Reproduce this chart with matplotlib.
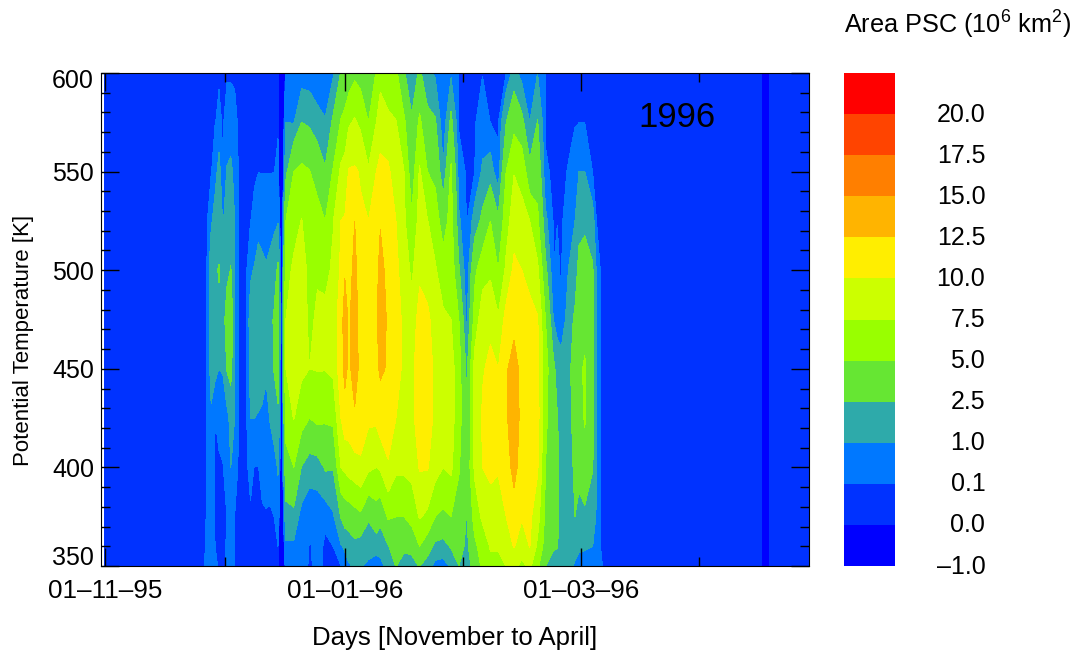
import numpy as np
import matplotlib
matplotlib.use("Agg")
import matplotlib.pyplot as plt
from matplotlib.transforms import ScaledTranslation

plt.rcParams["font.family"] = ["Liberation Sans", "DejaVu Sans"]
plt.rcParams["mathtext.fontset"] = "custom"
plt.rcParams["mathtext.rm"] = "Liberation Sans"
plt.rcParams["mathtext.default"] = "regular"

# potential temperature levels [K], the order of the values in every row below
theta = [350, 360, 375, 400, 425, 450, 475, 500, 525, 550, 575, 600]

bg = 0.05   # just above 0, "no PSC"
empty = [bg] * len(theta)
gap = [-1.0] * len(theta)

days_november = [0, 25, 26, 27, 28, 29, 30, 31, 32, 33, 34, 36]
area_november = [
    empty,
    empty,
    [.2, .15, .12, .12, .12, .12, .12, .12, .06, .05, .05, .05],
    [.3, .3, .3, .5, .8, 1.5, 2, 2, .8, .05, .05, .05],
    [.2, .1, .08, .08, .1, 1.3, 2.2, 2.3, 1.6, .5, .08, .05],
    [.05, .05, .05, .05, .2, 1, 2.2, 2.6, 1.8, 1.5, .2, .05],
    [.05, .05, .05, .08, .3, 1.1, 1.6, 1.8, .9, .09, .05, .05],
    [.12, .12, .1, .3, .5, 2.6, 3.5, 2, 1.5, 1.1, .3, .05],
    [.4, .4, .5, 1, 1.5, 3, 4, 2.6, 1.6, 1.3, .3, .05],
    [.09, .09, .09, .3, 1, 1, 1, 1, 1, .6, .2, .05],
    empty,
    empty,
]

days_december = [37, 38, 39, 40, 41, 42, 43, 44, 45, 46, 48, 50, 52, 54, 56, 58]
area_december = [
    [.05, .05, .05, .2, 1, 1.4, 1.6, .8, .09, .05, .05, .05],
    [.05, .05, .06, .09, 1, 1.6, 1.8, 1.1, .2, .05, .05, .05],
    [.05, .05, .06, .09, .9, 1.7, 2, 1.5, .6, .09, .05, .05],
    [.05, .05, .06, .2, .8, 1.5, 2, 1.3, .5, .08, .05, .05],
    [.05, .05, .08, .2, .5, 1.2, 1.8, 1.1, .5, .08, .05, .05],
    [.05, .05, .07, .2, 1.1, 1.9, 2, 1.4, .5, .08, .05, .05],
    [.05, .07, .1, .6, 1.5, 2.6, 2.7, 1.8, .7, .09, .05, .05],
    [.08, .1, .5, 1.1, 2.3, 3, 3.5, 2.8, .9, .2, .05, .05],
    gap,
    [.4, .8, 1.8, 4, 6, 7.5, 7.5, 6.5, 5, 2, 1, .2],
    [.4, .8, 1.9, 5, 7.6, 8.5, 9, 8, 6.5, 5, .9, .3],
    [.3, .6, .5, 2.4, 6, 8, 8.5, 8, 7.6, 5.5, 2.5, .3],
    [.05, .06, .3, 1.5, 5, 7.5, 7.1, 7.2, 6, 5.1, 2.2, .3],
    [.2, .2, .3, 1.6, 5.5, 7.6, 7.8, 7.3, 6, 4, 1.5, .09],
    [.05, .06, .15, 2.7, 5.3, 7.6, 8, 7, 5, 2.7, 1.1, .15],
    [.05, .1, .8, 2.6, 5.5, 8, 8.5, 7.8, 7.4, 5.2, 2.8, .8],
]

days_january = [60, 61, 62, 63.5, 65, 67, 69, 70, 72, 74, 76, 78, 80, 82, 84, 86, 88]
area_january = [
    [.08, .9, 2.6, 7.5, 10, 11.5, 11.5, 10.5, 10, 8, 5.2, 2.6],
    [.5, 1.2, 3.3, 8, 11.5, 13.2, 13.5, 12.3, 10.2, 8.5, 5.8, 3],
    [.9, 1.5, 3.5, 8.5, 11.3, 12, 12.2, 11.5, 10.5, 10.2, 7.2, 3.5],
    [1.1, 2, 4, 9, 12.2, 13.5, 13.5, 13.2, 12.5, 10.3, 7.8, 4.5],
    [1.2, 1.5, 4.5, 9.5, 11.5, 11.8, 11.5, 11, 10.3, 9.8, 7, 4],
    [.5, 2, 2.6, 8, 10.5, 11.5, 11.5, 11, 10, 7.8, 5, 3],
    [.4, 1.5, 3.8, 7.5, 10.5, 12, 12.2, 12, 11, 10, 7.5, 5.2],
    [.6, 1.5, 3, 7.8, 11.5, 12.8, 13.5, 13, 12.4, 11, 8.3, 7],
    [1.5, 2.4, 5.3, 9.7, 11.5, 12.3, 12.2, 12, 11.5, 10.5, 8, 6],
    [2.6, 3.5, 5, 8, 10, 11, 11, 10.5, 10, 8.5, 7.6, 5.5],
    [1.5, 3, 5, 8, 9.5, 9.5, 9.5, 9, 8, 7.6, 5.5, 2.7],
    [2, 2.9, 6, 8.2, 9.5, 9.3, 8.5, 7, 5.3, 3.5, 2.7, 1.5],
    [2.6, 5, 7.7, 10.2, 11, 11.5, 11, 9.5, 8.5, 7.8, 5.5, 2.8],
    [1.5, 3.5, 7, 10.2, 11, 11, 10.5, 9, 7.6, 5, 3, 1.5],
    [.6, 2, 5, 8.5, 9.5, 9.5, 9, 7.8, 6, 4.5, 2.7, .8],
    [.5, 1.8, 4.5, 7.5, 8.5, 8.5, 8, 6, 4, 1.1, .12, .05],
    [1.2, 2.7, 5, 8, 8.5, 8.5, 7.5, 6.5, 5.8, 5.4, 3, .8],
]

days_february = [90, 92, 94, 96, 98, 100, 102, 104, 106, 108, 110, 112, 114, 115, 116, 118]
area_february = [
    [2.5, 3.5, 4, 5.2, 6, 6, 5, 2.7, 1.2, .3, .05, .05],
    [1.5, 2, 2.4, 3, 2.6, 2, .5, .1, .05, .05, .05, .05],
    [3.5, 4.5, 6, 8, 8, 8.5, 6, 4.5, 1.5, .1, .05, .05],
    [5.5, 6, 8, 10, 10.3, 9.8, 9, 6.5, 3, 1.2, .4, .08],
    [7, 7.7, 9, 10.5, 11, 10.5, 9.5, 7, 5, 1.6, .09, .05],
    [6, 8, 9, 10.2, 10.5, 10, 7.8, 5, 2.8, .2, .05, .05],
    [7.6, 8.5, 10, 11.5, 12.2, 12.3, 11, 8, 6.5, 5, 2.5, .1],
    [8, 10.2, 11.5, 13.2, 13.8, 13.2, 12, 10.6, 8.8, 7.4, 4.2, 1.5],
    [7, 8.5, 10.2, 11.5, 11.8, 12, 11.5, 10, 8, 7, 3, .5],
    [8, 10.1, 10.5, 11, 11.5, 11, 11, 9, 7.5, 3, 1, .08],
    [5.5, 7, 8.5, 10.3, 11, 10.8, 10.2, 8, 5.5, 4, 2.6, 1],
    [2.6, 4, 4.5, 5, 5.5, 6, 5, 3, 1.3, .15, .05, .05],
    [1, 3, 3.5, 3.5, 3.5, 3, 1, .1, .05, .05, .05, .05],
    [1.5, 2.6, 2.8, 2.8, 2.6, 1.8, .5, .2, .09, .05, .05, .05],
    [1.5, 1.8, 2, 2, 1.8, 1.7, .09, .05, .05, .05, .05, .05],
    [1.5, 1.5, 1.5, 1.5, 2, 2, 1.8, 1.1, .3, .12, .05, .05],
]

days_march = [119.5, 120.5, 122, 124, 125, 126, 127, 167, 168, 169, 179]
area_march = [
    [.8, 1.5, 2.5, 3, 3.2, 3.8, 2.8, 1.7, 1, .5, .05, .05],
    [.6, 1.2, 2, 3, 4, 4.5, 4, 3, 2, 1, .09, .05],
    [.3, 1.2, 2, 4.2, 5.2, 5.3, 4.2, 3.2, 2.2, 1, .09, .05],
    [.3, 1, 1.5, 2.6, 3, 3, 3, 2.7, 1.5, .09, .05, .05],
    [.7, .8, .9, .9, 1, 1, 1, .8, .09, .05, .05, .05],
    [.15, .1, .07, .07, .07, .07, .07, .06, .05, .05, .05, .05],
    empty,
    empty,
    gap,
    empty,
    empty,
]

# contour levels and their colours, bottom to top
levels = [-1.0, 0.0, 0.1, 1.0, 2.5, 5.0, 7.5, 10.0, 12.5, 15.0, 17.5, 20.0, 40.0]
colors = ["#0000ff", "#0032ff", "#0078ff", "#2eaaaa", "#66e633", "#99ff00",
          "#ccff00", "#ffee00", "#ffb400", "#ff7f00", "#ff4400", "#ff0000"]
level_labels = ["\u20131.0", "0.0", "0.1", "1.0", "2.5", "5.0", "7.5", "10.0",
                "12.5", "15.0", "17.5", "20.0"]

major_days = [0, 61, 121]
minor_days = [30.5, 91, 151]
day_labels = ["01\u201311\u201395", "01\u201301\u201396", "01\u201303\u201396"]
theta_ticks = [350, 400, 450, 500, 550, 600]

W, H = 1079.0, 655.0
FS = 18

days = days_november + days_december + days_january + days_february + days_march
area = np.array(area_november + area_december + area_january + area_february + area_march).T

fig = plt.figure(figsize=(W / 100, H / 100), dpi=100, facecolor="white")
ax = fig.add_axes([101 / W, 1 - 566 / H, 708 / W, 493 / H])
ax.contourf(days, theta, area, levels=levels, colors=colors)

ax.set_xlim(-1, 179)
ax.set_ylim(350, 600)
ax.set_xticks(major_days)
ax.set_xticks(minor_days, minor=True)
ax.set_xticklabels(day_labels, fontsize=18.7)
ax.set_yticks(theta_ticks)
ax.set_yticks(np.arange(350, 601, 10), minor=True)
ax.set_yticklabels([str(t) for t in theta_ticks], fontsize=FS)
ax.tick_params(which="major", direction="in", length=13, width=1, top=True, right=True)
ax.tick_params(which="minor", direction="in", length=6.5, width=1, top=True, right=True)
ax.tick_params(axis="x", which="major", pad=9)
ax.tick_params(axis="y", which="major", pad=5)

# first and last labels are pushed inside the axis range
lab_350 = ax.get_yticklabels()[0]
lab_600 = ax.get_yticklabels()[-1]
lab_350.set_va("bottom")
lab_600.set_va("top")
lab_350.set_transform(lab_350.get_transform() + ScaledTranslation(0, -4 / 100, fig.dpi_scale_trans))
lab_600.set_transform(lab_600.get_transform() + ScaledTranslation(0, 4 / 100, fig.dpi_scale_trans))

ax.set_xlabel("Days [November to April]", fontsize=18.5, labelpad=0)
ax.xaxis.set_label_coords((455 - 101) / 708, 1 - (638 - 73) / 493, transform=ax.transAxes)
ax.xaxis.label.set_va("center")
ax.set_ylabel("Potential Temperature [K]", fontsize=16)
ax.yaxis.set_label_coords((24 - 101) / 708, 1 - (340 - 73) / 493, transform=ax.transAxes)
ax.yaxis.label.set_va("center")

ax.text(155.2, 577.5, "1996", fontsize=25, ha="right", va="center", color="black")

# colour key
cax = fig.add_axes([844 / W, 1 - 566 / H, 51 / W, 493 / H])
edges = np.arange(len(colors) + 1)
cax.pcolormesh([0, 1], edges, np.arange(len(colors)).reshape(-1, 1),
               cmap=matplotlib.colors.ListedColormap(colors), vmin=0, vmax=len(colors))
cax.set_xticks([])
cax.set_yticks(edges[:-1])
cax.set_yticklabels(level_labels, fontsize=FS, ha="right")
cax.yaxis.tick_right()
cax.tick_params(axis="y", length=0, pad=65)
for lab in cax.get_yticklabels():
    lab.set_transform(lab.get_transform() + ScaledTranslation(0, 2 / 100, fig.dpi_scale_trans))
for s in cax.spines.values():
    s.set_visible(False)

fig.text(844 / W, 1 - 25 / H, "Area PSC (10$^{6}$ km$^{2}$)", fontsize=18.2, ha="left", va="center")

fig.savefig("out.png", dpi=100, facecolor="white")
